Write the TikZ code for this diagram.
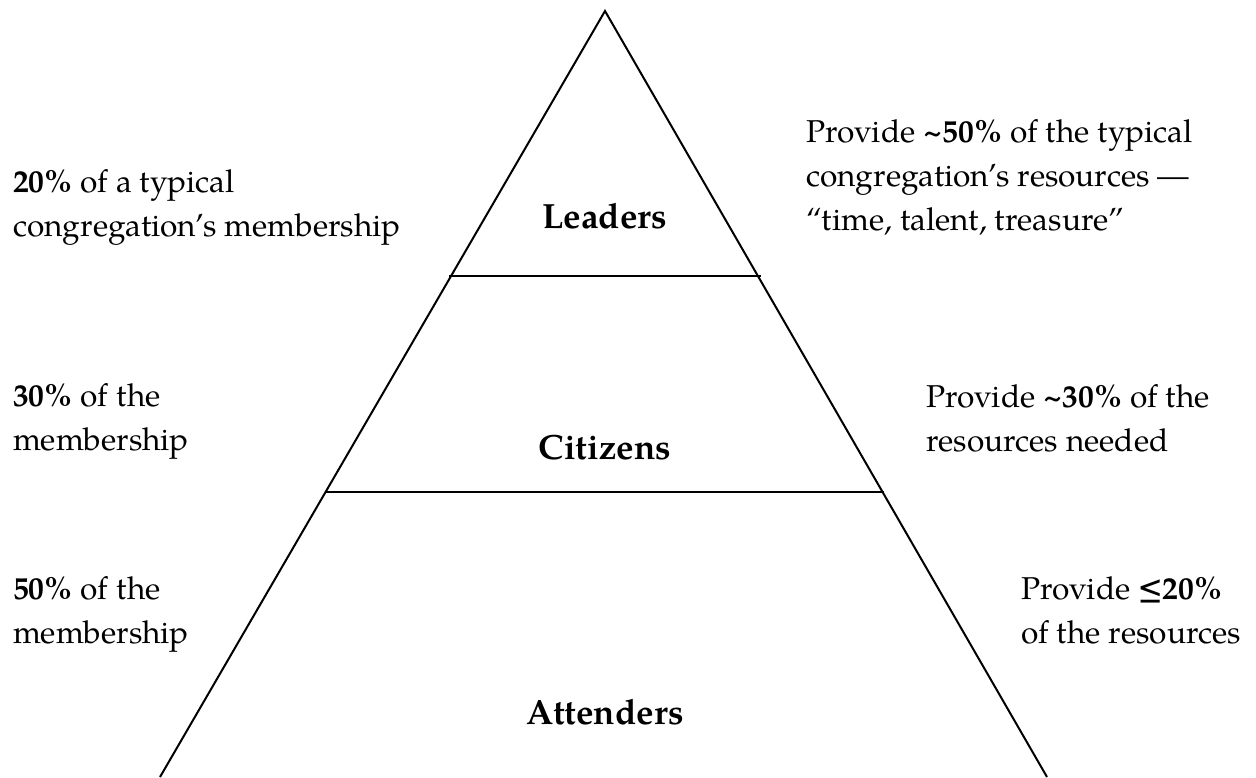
\documentclass[tikz,border=0pt]{standalone}
\usepackage{fontspec}
\setmainfont{TeX Gyre Pagella}
\usepackage{tikz}
\usetikzlibrary{calc}

\tikzset{
  txt/.style={anchor=base west, inner sep=0pt, align=left, font=\fontsize{15.8}{22}\selectfont},
  lvl/.style={anchor=base, inner sep=0pt, font=\fontsize{17.5}{22}\selectfont\bfseries}
}

\begin{document}
\begin{tikzpicture}[x=0.5pt,y=-0.5pt,line width=1pt]
\useasboundingbox (0,0) rectangle (1256,777);
% pyramid
\coordinate (apex) at (605,11);
\coordinate (baseL) at (160,777);
\coordinate (baseR) at (1047,777);
\coordinate (cutLa) at (449,276);
\coordinate (cutLb) at (761,276);
\coordinate (cutCa) at (325,492);
\coordinate (cutCb) at (884,492);
\draw (baseL) -- (apex) -- (baseR);
\draw (cutLa) -- (cutLb);
\draw (cutCa) -- (cutCb);
% levels
\node[lvl] (leaders) at (605,228) {Leaders};
\node[lvl] (citizens) at (605,459) {Citizens};
\node[lvl] (attenders) at (605,724) {Attenders};
% membership (base = last line)
\node[txt] (memL) at (12,236) {\textbf{20\%} of a typical\\congregation’s membership};
\node[txt] (memC) at (12,450) {\textbf{30\%} of the\\membership};
\node[txt] (memA) at (12,643) {\textbf{50\%} of the\\membership};
% resources
\node[txt] (resL) at (805,230) {Provide \textbf{\textasciitilde50\%} of the typical\\congregation’s resources ---\\“time, talent, treasure”};
\node[txt] (resC) at (925,451) {Provide \textbf{\textasciitilde30\%} of the\\resources needed};
\node[txt] (resA) at (1020,643) {Provide \textbf{≤20\%}\\of the resources};
\end{tikzpicture}
\end{document}
